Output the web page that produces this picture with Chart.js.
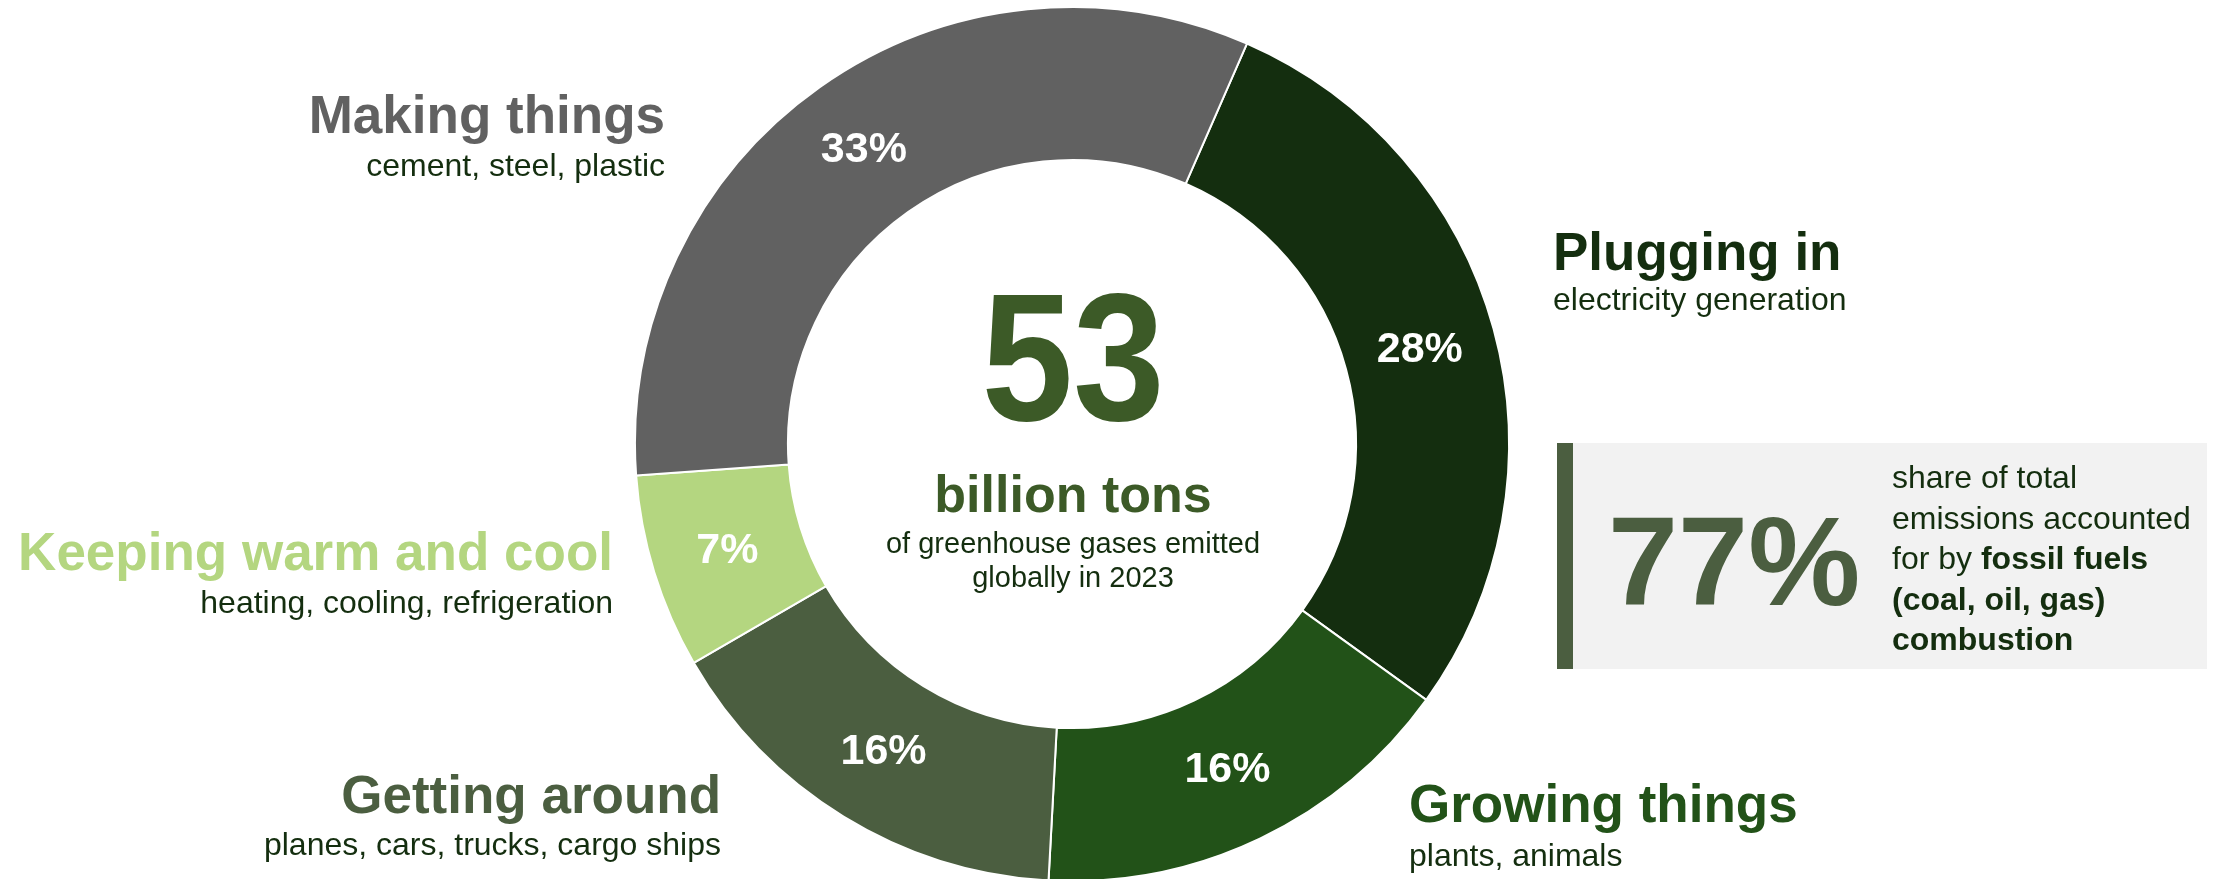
<!DOCTYPE html>
<html>
<head>
<meta charset="utf-8">
<script src="https://cdn.jsdelivr.net/npm/chart.js@4.4.1/dist/chart.umd.min.js"></script>
<style>
html,body{margin:0;padding:0;background:#ffffff;overflow:hidden;}
#wrap{position:relative;width:2221px;height:879px;}
</style>
</head>
<body>
<div id="wrap"><canvas id="c" width="2221" height="879"></canvas></div>
<script>
// ---- data ----
const categories = ['Plugging in', 'Growing things', 'Getting around', 'Keeping warm and cool', 'Making things'];
const subtitles = ['electricity generation', 'plants, animals', 'planes, cars, trucks, cargo ships', 'heating, cooling, refrigeration', 'cement, steel, plastic'];
const shares = [28.4, 15.9, 15.8, 7.2, 32.7];
const sliceColors = ['#142e0f', '#225218', '#4b5e40', '#b4d680', '#616161'];
const totalEmissions = '53';
const totalUnit = 'billion tons';
const totalNote = ['of greenhouse gases emitted', 'globally in 2023'];
const fossilShare = '77%';
const fossilNote = [
  [['share of total', false]],
  [['emissions accounted', false]],
  [['for by ', false], ['fossil fuels', true]],
  [['(coal, oil, gas)', true]],
  [['combustion', true]]
];

// ---- layout (positions only) ----
const FONT = '"Liberation Sans", Arial, Helvetica, sans-serif';
const labelLayout = [
  {x: 1553, y: 270, sy: 310, align: 'left'},
  {x: 1409, y: 822, sy: 866, align: 'left'},
  {x: 721,  y: 813, sy: 855, align: 'right'},
  {x: 613,  y: 570, sy: 613, align: 'right'},
  {x: 665,  y: 133, sy: 176, align: 'right'}
];
const subColor = '#142e0f';

const annotate = {
  id: 'annotate',
  afterDraw(chart) {
    const ctx = chart.ctx;
    const meta = chart.getDatasetMeta(0);
    ctx.save();
    // percentage labels in slices
    ctx.fillStyle = '#ffffff';
    ctx.font = 'bold 43px ' + FONT;
    ctx.textAlign = 'center';
    ctx.textBaseline = 'middle';
    meta.data.forEach((arc, i) => {
      const p = arc.tooltipPosition();
      ctx.fillText(Math.round(shares[i]) + '%', p.x, p.y + 1);
    });
    // category labels
    ctx.textBaseline = 'alphabetic';
    categories.forEach((name, i) => {
      const L = labelLayout[i];
      ctx.textAlign = L.align;
      ctx.fillStyle = sliceColors[i];
      ctx.font = 'bold 53px ' + FONT;
      ctx.fillText(name, L.x, L.y);
      ctx.fillStyle = subColor;
      ctx.font = '32px ' + FONT;
      ctx.fillText(subtitles[i], L.x, L.sy);
    });
    // centre text
    const cx = (chart.chartArea.left + chart.chartArea.right) / 2;
    ctx.textAlign = 'center';
    ctx.fillStyle = '#3c5a27';
    ctx.save();
    ctx.translate(cx + 1, 420);
    ctx.scale(0.91, 1);
    ctx.font = 'bold 181px ' + FONT;
    ctx.fillText(totalEmissions, 0, 0);
    ctx.restore();
    ctx.font = 'bold 52px ' + FONT;
    ctx.fillText(totalUnit, cx + 1, 512);
    ctx.fillStyle = subColor;
    ctx.font = '29px ' + FONT;
    ctx.fillText(totalNote[0], cx + 1, 553);
    ctx.fillText(totalNote[1], cx + 1, 587);
    // fossil fuel box
    ctx.fillStyle = '#f2f2f2';
    ctx.fillRect(1573, 443, 634, 226);
    ctx.fillStyle = '#4b5e40';
    ctx.fillRect(1557, 443, 16, 226);
    ctx.textAlign = 'left';
    ctx.font = 'bold 126px ' + FONT;
    ctx.fillText(fossilShare, 1608, 605);
    ctx.fillStyle = subColor;
    fossilNote.forEach((line, li) => {
      let x = 1892;
      const y = 488 + li * 40.5;
      line.forEach(([txt, bold]) => {
        ctx.font = (bold ? 'bold ' : '') + '32px ' + FONT;
        ctx.fillText(txt, x, y);
        x += ctx.measureText(txt).width;
      });
    });
    ctx.restore();
  }
};

new Chart(document.getElementById('c'), {
  type: 'doughnut',
  data: {
    labels: categories,
    datasets: [{
      data: shares,
      backgroundColor: sliceColors,
      borderColor: '#ffffff',
      borderWidth: 2,
      hoverOffset: 0
    }]
  },
  options: {
    responsive: false,
    animation: false,
    rotation: 23.6,
    cutout: '65%',
    radius: 437,
    layout: {padding: {top: 9, bottom: 0, left: 0, right: 77}},
    plugins: {legend: {display: false}, tooltip: {enabled: false}}
  },
  plugins: [annotate]
});
</script>
</body>
</html>
